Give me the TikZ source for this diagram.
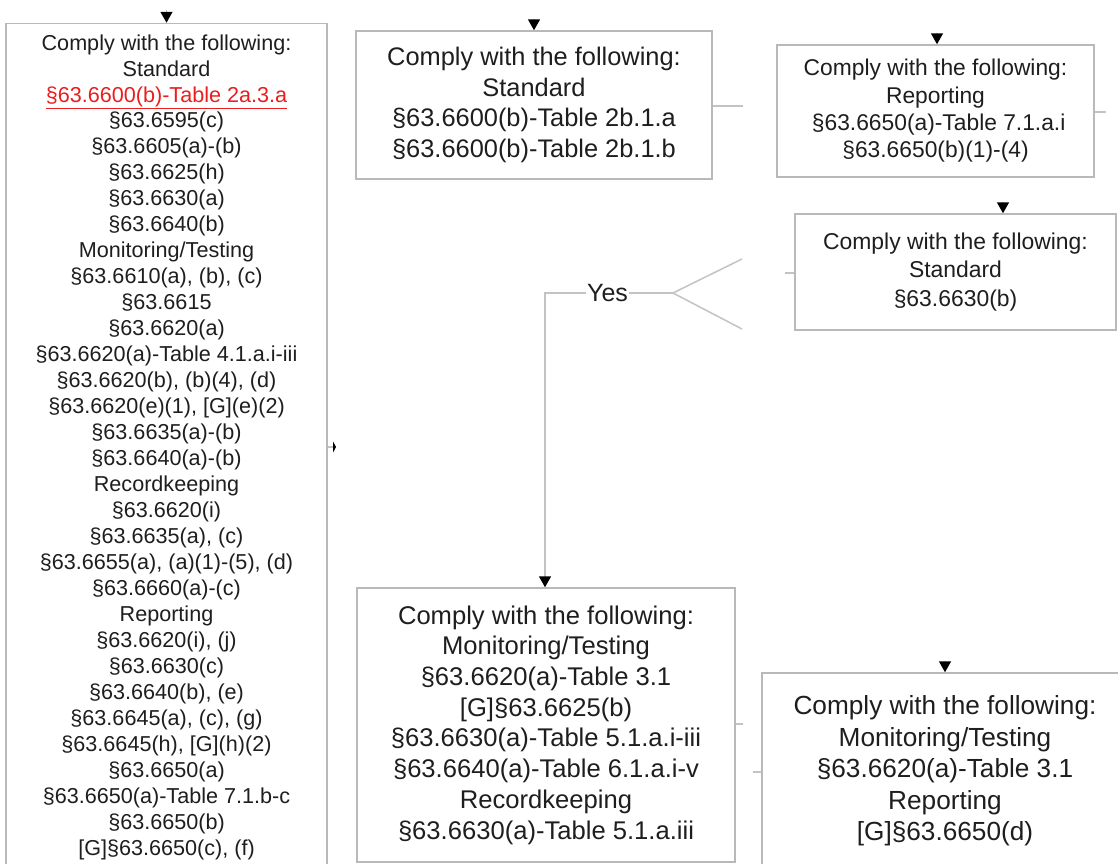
\documentclass[tikz,border=0pt]{standalone}
\usepackage{fontspec}
\setmainfont{Liberation Sans}
\usetikzlibrary{arrows.meta}
\definecolor{edgegray}{RGB}{185,185,185}
\definecolor{linegray}{RGB}{195,195,195}
\definecolor{txt}{RGB}{30,30,30}
\definecolor{redtxt}{RGB}{235,30,30}
\tikzset{
  box/.style={draw=edgegray, line width=1.5pt, rectangle, align=center, text=txt, inner sep=0pt, fill=white},
  conn/.style={draw=linegray, line width=1.5pt},
  arr/.style={conn, -{Triangle[length=11pt,width=12pt,color=black]}},
  f1/.style={font=\fontsize{21.6}{25.97}\selectfont},
  f2/.style={font=\fontsize{25.4}{30.6}\selectfont},
  f3/.style={font=\fontsize{22.8}{27.3}\selectfont},
  f4/.style={font=\fontsize{22.9}{28.5}\selectfont},
  f5/.style={font=\fontsize{25.6}{30.7}\selectfont},
  f6/.style={font=\fontsize{26.2}{31.5}\selectfont},
}
\begin{document}
\begin{tikzpicture}[x=1pt,y=-1pt]
\useasboundingbox (0,0) rectangle (1118,863);
\clip (0,0) rectangle (1118,863);

% boxes
\node[box,f1,minimum width=321pt,minimum height=847pt] (b1) at (166.5,447) {%
Comply with the following:\\
Standard\\
\textcolor{redtxt}{\underline{§63.6600(b)-Table 2a.3.a}}\\
§63.6595(c)\\
§63.6605(a)-(b)\\
§63.6625(h)\\
§63.6630(a)\\
§63.6640(b)\\
Monitoring/Testing\\
§63.6610(a), (b), (c)\\
§63.6615\\
§63.6620(a)\\
§63.6620(a)-Table 4.1.a.i-iii\\
§63.6620(b), (b)(4), (d)\\
§63.6620(e)(1), [G](e)(2)\\
§63.6635(a)-(b)\\
§63.6640(a)-(b)\\
Recordkeeping\\
§63.6620(i)\\
§63.6635(a), (c)\\
§63.6655(a), (a)(1)-(5), (d)\\
§63.6660(a)-(c)\\
Reporting\\
§63.6620(i), (j)\\
§63.6630(c)\\
§63.6640(b), (e)\\
§63.6645(a), (c), (g)\\
§63.6645(h), [G](h)(2)\\
§63.6650(a)\\
§63.6650(a)-Table 7.1.b-c\\
§63.6650(b)\\
{[G]}§63.6650(c), (f)};

\node[box,f2,minimum width=356pt,minimum height=148pt] (b2) at (534,105) {%
Comply with the following:\\
Standard\\
§63.6600(b)-Table 2b.1.a\\
§63.6600(b)-Table 2b.1.b};

\node[box,f3,minimum width=317pt,minimum height=132pt] (b3) at (935.5,111) {%
Comply with the following:\\
Reporting\\
\hspace{0.28em}§63.6650(a)-Table 7.1.a.i\\
§63.6650(b)(1)-(4)};

\node[box,f4,minimum width=321pt,minimum height=116pt] (b4) at (955.5,272) {%
Comply with the following:\\
Standard\\
§63.6630(b)};

\node[box,f5,minimum width=378pt,minimum height=274pt] (b5) at (546,725) {%
Comply with the following:\\
Monitoring/Testing\\
§63.6620(a)-Table 3.1\\
{[G]}§63.6625(b)\\
§63.6630(a)-Table 5.1.a.i-iii\\
§63.6640(a)-Table 6.1.a.i-v\\
Recordkeeping\\
§63.6630(a)-Table 5.1.a.iii};

\node[box,f6,minimum width=366pt,minimum height=196pt] (b6) at (945,771) {%
Comply with the following:\\
Monitoring/Testing\\
§63.6620(a)-Table 3.1\\
Reporting\\
{[G]}§63.6650(d)};

% free ends
\coordinate (in1) at (166.5,10);
\coordinate (in2) at (534,19);
\coordinate (in3) at (937,33);
\coordinate (in4) at (1003,202);
\coordinate (in6) at (945,661);
\coordinate (o1) at (336,447);
\coordinate (o2) at (743,106);
\coordinate (o3) at (1106,112);
\coordinate (o4) at (785,273);
\coordinate (o5) at (743,724);
\coordinate (o6) at (753,772);
\coordinate (fork) at (673,293);
\coordinate (fu) at (742,259);
\coordinate (fd) at (742,329);
\coordinate (corner) at (545,293);

% incoming arrows
\draw[arr] (in1) -- (b1.north);
\draw[arr] (in2) -- (b2.north);
\draw[arr] (in3) -- (in3 |- b3.north);
\draw[arr] (in4) -- (in4 |- b4.north);
\draw[arr] (in6) -- (b6.north);

% stubs
\draw[conn, -{Triangle[length=3pt,width=11pt,color=black]}] (b1.east) -- (o1);
\draw[conn] (b2.east |- o2) -- (o2);
\draw[conn] (b3.east |- o3) -- (o3);
\draw[conn] (o4) -- (b4.west |- o4);
\draw[conn] (b5.east |- o5) -- (o5);
\draw[conn] (o6) -- (b6.west |- o6);

% decision fork and Yes branch
\draw[conn] (fu) -- (fork) -- (fd);
\node[text=txt, font=\fontsize{25}{30}\selectfont, inner sep=1pt] (yes) at (607.5,293) {Yes};
\draw[conn] (fork) -- (yes);
\draw[arr] (yes) -- (corner) -- (corner |- b5.north);
\end{tikzpicture}
\end{document}
